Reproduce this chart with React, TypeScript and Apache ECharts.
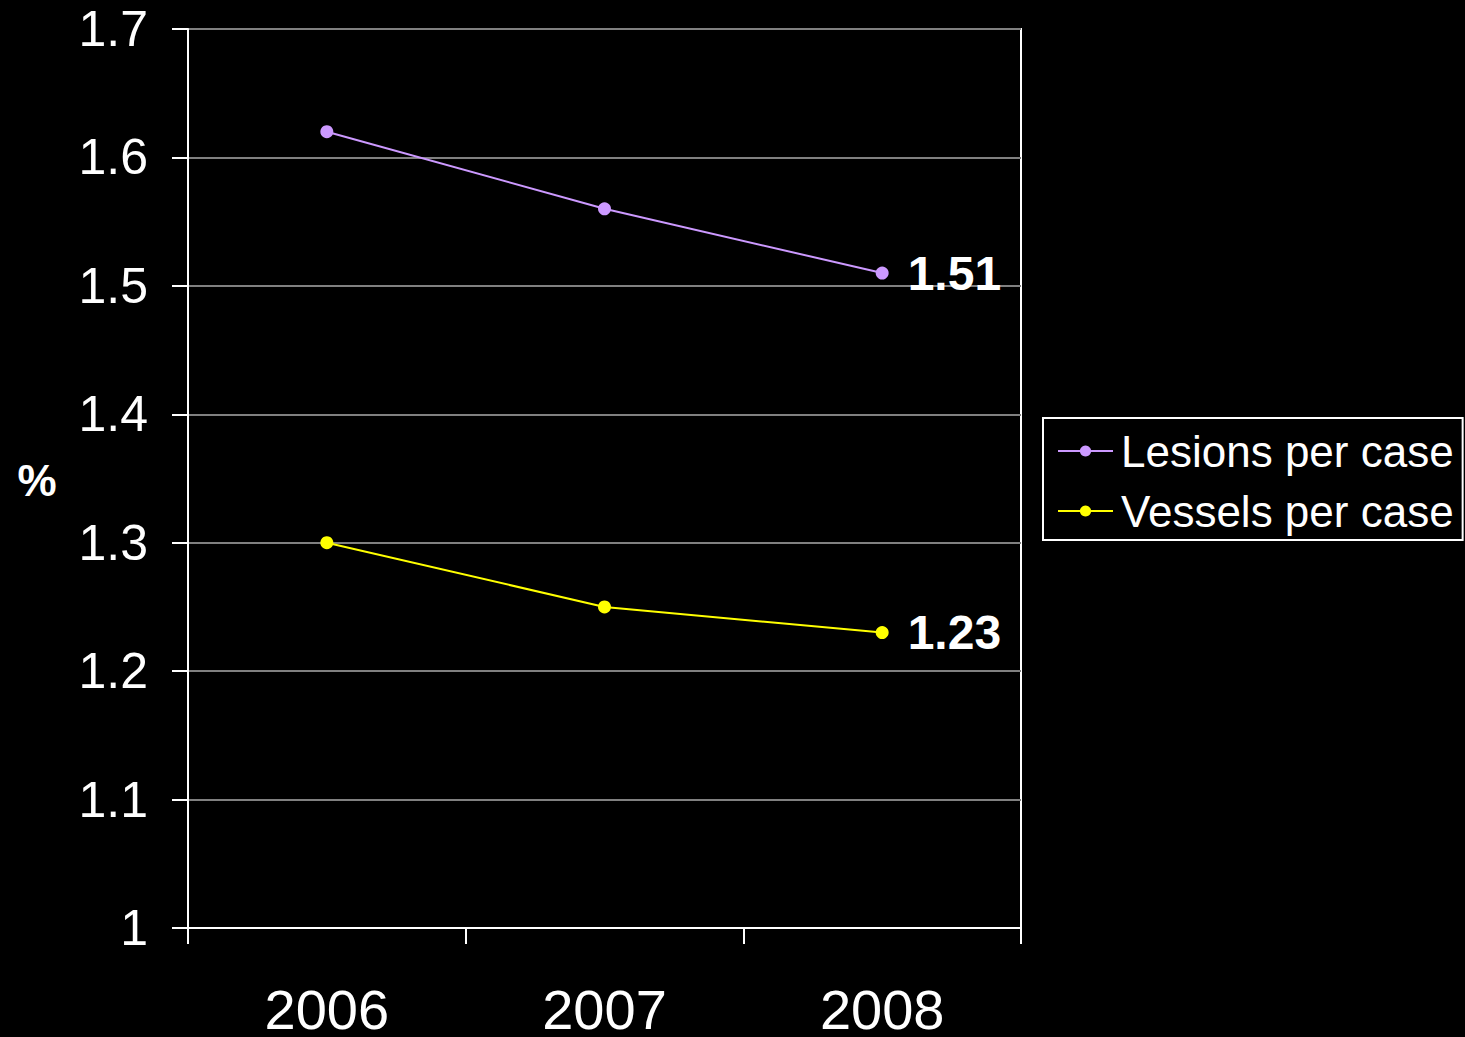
import React, { useEffect, useRef } from "react";
import * as echarts from "echarts";

const years = ["2006", "2007", "2008"];
const lesionsPerCase = [1.62, 1.56, 1.51];
const vesselsPerCase = [1.3, 1.25, 1.23];
const yMin = 1;
const yMax = 1.7;
const yStep = 0.1;
const FONT = "'Liberation Sans', Arial, sans-serif";

function withLastLabel(values: number[]) {
  return values.map((v, i) =>
    i === values.length - 1
      ? {
          value: v,
          label: {
            show: true,
            position: "right",
            distance: 19,
            color: "#ffffff",
            fontFamily: FONT,
            fontWeight: "bold",
            fontSize: 48,
            formatter: (p: any) => p.value.toFixed(2),
          },
        }
      : v
  );
}

export default function App() {
  const ref = useRef<HTMLDivElement>(null);
  useEffect(() => {
    if (!ref.current) return;
    const chart = echarts.init(ref.current, null, { renderer: "svg" });
    chart.setOption({
      animation: false,
      backgroundColor: "#000000",
      grid: {
        left: 188,
        right: 444,
        top: 29,
        bottom: 109,
        show: true,
        borderColor: "#ffffff",
        borderWidth: 2,
        backgroundColor: "transparent",
      },
      legend: {
        orient: "vertical",
        left: 1043,
        top: 418,
        padding: [8, 9, 4, 14],
        itemGap: 10,
        itemWidth: 55,
        itemHeight: 14,
        borderColor: "#ffffff",
        borderWidth: 2,
        textStyle: {
          color: "#ffffff",
          fontFamily: FONT,
          fontSize: 44,
          lineHeight: 50,
          padding: [0, 0, 0, 3],
        },
        data: ["Lesions per case", "Vessels per case"],
      },
      xAxis: {
        type: "category",
        data: years,
        boundaryGap: true,
        axisLine: { lineStyle: { color: "#ffffff", width: 2 } },
        axisTick: { show: true, alignWithLabel: false, length: 16, lineStyle: { color: "#ffffff", width: 2 } },
        axisLabel: { color: "#ffffff", fontFamily: FONT, fontSize: 56, margin: 53 },
        splitLine: { show: false },
      },
      yAxis: {
        type: "value",
        min: yMin,
        max: yMax,
        interval: yStep,
        axisLine: { show: true, lineStyle: { color: "#ffffff", width: 2 } },
        axisTick: { show: true, length: 16, lineStyle: { color: "#ffffff", width: 2 } },
        axisLabel: {
          color: "#ffffff",
          fontFamily: FONT,
          fontSize: 50,
          margin: 40,
          formatter: (v: number) => String(parseFloat(v.toFixed(1))),
        },
        splitLine: { show: true, lineStyle: { color: "#808080", width: 2 } },
      },
      graphic: [
        {
          type: "text",
          x: 37,
          y: 480,
          style: {
            text: "%",
            fill: "#ffffff",
            font: `bold 44px ${FONT}`,
            align: "center",
            verticalAlign: "middle",
          },
        },
      ],
      series: [
        {
          name: "Lesions per case",
          type: "line",
          data: withLastLabel(lesionsPerCase),
          symbol: "circle",
          symbolSize: 13,
          color: "#cc99ff",
          lineStyle: { color: "#cc99ff", width: 2 },
          itemStyle: { color: "#cc99ff" },
        },
        {
          name: "Vessels per case",
          type: "line",
          data: withLastLabel(vesselsPerCase),
          symbol: "circle",
          symbolSize: 13,
          color: "#ffff00",
          lineStyle: { color: "#ffff00", width: 2 },
          itemStyle: { color: "#ffff00" },
        },
      ],
    });
    return () => chart.dispose();
  }, []);
  return (
    <div
      ref={ref}
      style={{ position: "fixed", left: 0, top: 0, width: 1465, height: 1037, background: "#000" }}
    />
  );
}
